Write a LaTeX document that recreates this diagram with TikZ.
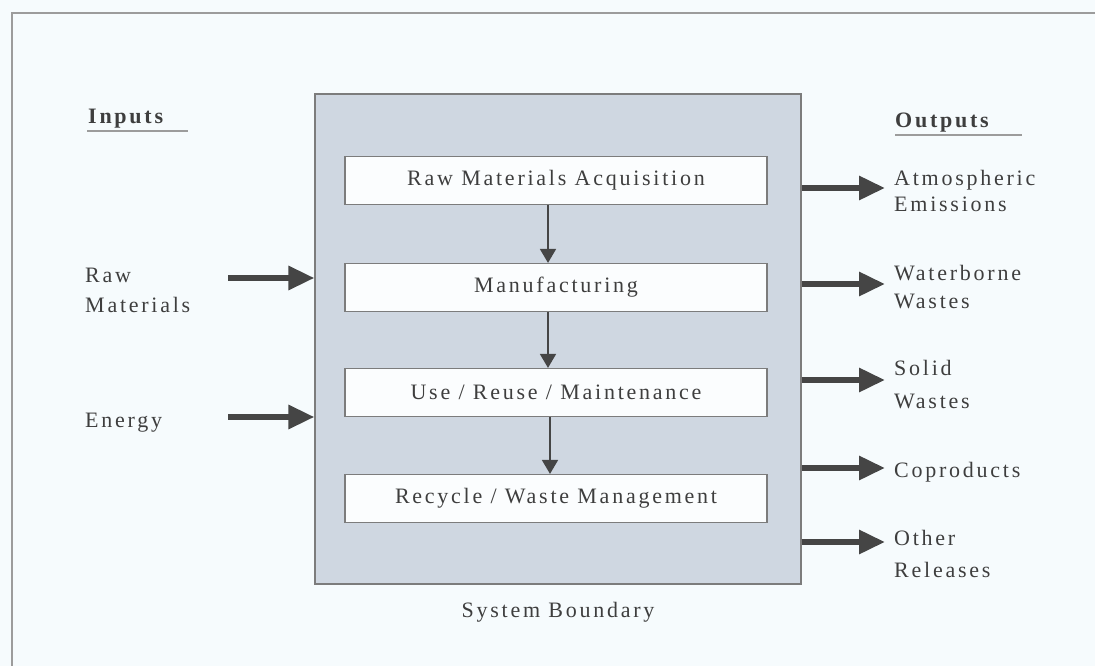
\documentclass[tikz,border=0pt]{standalone}
\usepackage{fontspec}
\setmainfont{Liberation Serif}[LetterSpace=12.5]
\usetikzlibrary{arrows.meta}
\definecolor{bg}{HTML}{F6FBFD}
\definecolor{txt}{HTML}{3E3E3E}
\definecolor{arr}{HTML}{454545}
\definecolor{frame}{HTML}{9C9C9C}
\definecolor{sysfill}{HTML}{CFD7E1}
\definecolor{sysline}{HTML}{7C7C7C}
\definecolor{stagefill}{HTML}{FBFDFE}
\begin{document}
\begin{tikzpicture}[x=1pt,y=-1pt,
  lbl/.style={text=txt, font=\fontsize{22}{26}\selectfont, inner sep=0pt, anchor=base west},
  hdr/.style={lbl, font=\fontsize{22}{26}\selectfont\bfseries},
  stage/.style={draw=sysline, fill=stagefill, line width=1.2pt, minimum width=422pt, minimum height=48pt,
                text=txt, font=\fontsize{22}{26}\selectfont, inner sep=0pt},
  sysbox/.style={draw=sysline, fill=sysfill, line width=1.2pt, minimum width=486pt, minimum height=490pt, inner sep=0pt},
  bigarrow/.style={draw=arr, line width=6pt, -{Triangle[width=23pt,length=26pt]}},
  smallarrow/.style={draw=arr, line width=1.8pt, -{Triangle[width=16pt,length=14pt]}},
  rule/.style={draw=frame, line width=1.5pt}
]
\fill[bg] (0,0) rectangle (1095,666);
\useasboundingbox (0,0) rectangle (1095,666);
% frame
\coordinate (fa) at (12,666);
\coordinate (fb) at (12,13);
\coordinate (fc) at (1095,13);
\draw[rule] (fa) -- (fb) -- (fc);

% system boundary
\node[sysbox] (sys) at (558,339) {};
\node[stage] (s1) at (556,180.5) {Raw Materials Acquisition};
\node[stage] (s2) at (556,287.5) {Manufacturing};
\node[stage] (s3) at (556,392.5) {Use / Reuse / Maintenance};
\node[stage] (s4) at (556,498.5) {Recycle / Waste Management};
\draw[smallarrow] ([xshift=-8pt]s1.south) -- ([xshift=-8pt]s2.north);
\draw[smallarrow] ([xshift=-8pt]s2.south) -- ([xshift=-8pt]s3.north);
\draw[smallarrow] ([xshift=-6pt]s3.south) -- ([xshift=-6pt]s4.north);
\node[lbl, anchor=base] (sb) at (558,617) {System Boundary};

% inputs
\node[hdr] (inh) at (88,124) {Inputs};
\coordinate (inu1) at (87,131);
\coordinate (inu2) at (188,131);
\draw[rule] (inu1) -- (inu2);
\node[lbl] (rm1) at (85,282) {Raw};
\node[lbl] (rm2) at (85,312) {Materials};
\node[lbl] (en) at (85,427) {Energy};
\coordinate (rmstart) at (228,278);
\coordinate (enstart) at (228,417);
\draw[bigarrow] (rmstart) -- (rmstart -| sys.west);
\draw[bigarrow] (enstart) -- (enstart -| sys.west);

% outputs
\node[hdr] (outh) at (895,128) {Outputs};
\coordinate (ou1) at (895,135);
\coordinate (ou2) at (1022,135);
\draw[rule] (ou1) -- (ou2);
\node[lbl] (o1a) at (894,185) {Atmospheric};
\node[lbl] (o1b) at (894,211) {Emissions};
\node[lbl] (o2a) at (894,280) {Waterborne};
\node[lbl] (o2b) at (894,308) {Wastes};
\node[lbl] (o3a) at (894,375) {Solid};
\node[lbl] (o3b) at (894,408) {Wastes};
\node[lbl] (o4) at (894,477) {Coproducts};
\node[lbl] (o5a) at (894,545) {Other};
\node[lbl] (o5b) at (894,577) {Releases};
\coordinate (e1) at (885,188);
\coordinate (e2) at (885,284);
\coordinate (e3) at (885,380);
\coordinate (e4) at (885,468);
\coordinate (e5) at (885,542);
\foreach \e in {e1,e2,e3,e4,e5} {\draw[bigarrow] (\e -| sys.east) -- (\e);}
\end{tikzpicture}
\end{document}
